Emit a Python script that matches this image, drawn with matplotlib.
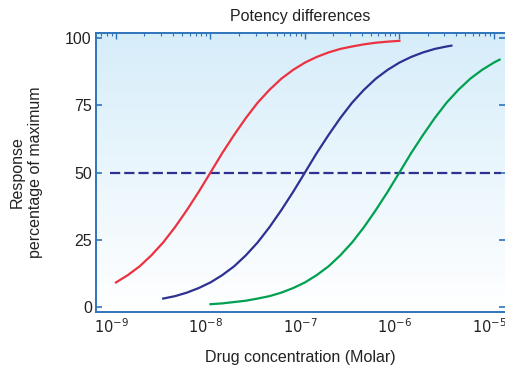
import numpy as np
import matplotlib.pyplot as plt
from matplotlib.transforms import ScaledTranslation

plt.rcParams['font.family'] = ['Liberation Sans', 'DejaVu Sans']
plt.rcParams['axes.unicode_minus'] = False

# values (concentration in Molar, response in %)
red_conc = [1.0e-9, 1.33e-9, 1.78e-9, 2.37e-9, 3.16e-9, 4.22e-9, 5.62e-9, 7.50e-9,
            1.0e-8, 1.33e-8, 1.78e-8, 2.37e-8, 3.16e-8, 4.22e-8, 5.62e-8, 7.50e-8,
            1.0e-7, 1.33e-7, 1.78e-7, 2.37e-7, 3.16e-7, 4.22e-7, 5.62e-7, 7.50e-7,
            1.0e-6]
red_resp = [9.1, 11.8, 15.1, 19.2, 24.0, 29.7, 36.0, 42.8,
            50.0, 57.2, 64.0, 70.3, 76.0, 80.8, 84.9, 88.2,
            90.9, 93.0, 94.7, 96.0, 96.9, 97.7, 98.3, 98.7,
            99.0]

blue_conc = [3.16e-9, 4.22e-9, 5.62e-9, 7.50e-9,
             1.0e-8, 1.33e-8, 1.78e-8, 2.37e-8, 3.16e-8, 4.22e-8, 5.62e-8, 7.50e-8,
             1.0e-7, 1.33e-7, 1.78e-7, 2.37e-7, 3.16e-7, 4.22e-7, 5.62e-7, 7.50e-7,
             1.0e-6, 1.33e-6, 1.78e-6, 2.37e-6, 3.16e-6, 3.55e-6]
blue_resp = [3.1, 4.0, 5.3, 7.0,
             9.1, 11.8, 15.1, 19.2, 24.0, 29.7, 36.0, 42.8,
             50.0, 57.2, 64.0, 70.3, 76.0, 80.8, 84.9, 88.2,
             90.9, 93.0, 94.7, 96.0, 96.9, 97.2]

green_conc = [1.0e-8, 1.33e-8, 1.78e-8, 2.37e-8, 3.16e-8, 4.22e-8, 5.62e-8, 7.50e-8,
              1.0e-7, 1.33e-7, 1.78e-7, 2.37e-7, 3.16e-7, 4.22e-7, 5.62e-7, 7.50e-7,
              1.0e-6, 1.33e-6, 1.78e-6, 2.37e-6, 3.16e-6, 4.22e-6, 5.62e-6, 7.50e-6,
              1.0e-5, 1.15e-5]
green_resp = [1.0, 1.3, 1.8, 2.3, 3.1, 4.0, 5.3, 7.0,
              9.1, 11.8, 15.1, 19.2, 24.0, 29.7, 36.0, 42.8,
              50.0, 57.2, 64.0, 70.3, 76.0, 80.8, 84.9, 88.2,
              90.9, 92.0]

half_line_x = [8.6e-10, 1.2e-5]
half_line_y = [50, 50]

y_ticks = [0, 25, 50, 75, 100]
x_ticks = [1e-9, 1e-8, 1e-7, 1e-6, 1e-5]
x_tick_labels = ['$10^{-9}$', '$10^{-8}$', '$10^{-7}$', '$10^{-6}$', '$10^{-5}$']

blue_edge = '#2f74bb'
text_col = '#222222'

fig = plt.figure(figsize=(5.06, 3.68), dpi=100)
ax = fig.add_axes([0.1897, 0.1522, 0.808, 0.758])

# light blue gradient behind the curves
grad = np.linspace(0, 1, 256).reshape(-1, 1)
top = np.array([0.84, 0.93, 0.98])
bottom = np.array([1.0, 1.0, 1.0])
img = top * (1 - grad[..., None]) + bottom * grad[..., None]
ax.imshow(img, extent=[0, 1, 0, 1], transform=ax.transAxes, aspect='auto', zorder=0)

ax.plot(half_line_x, half_line_y, color='#2e3192', linewidth=1.6,
        dashes=(4.6, 1.8), zorder=2)
ax.plot(red_conc, red_resp, color='#ec3240', linewidth=1.6, zorder=3)
ax.plot(blue_conc, blue_resp, color='#2e3192', linewidth=1.6, zorder=3)
ax.plot(green_conc, green_resp, color='#00a050', linewidth=1.6, zorder=3)

ax.set_xscale('log')
ax.set_xlim(10 ** -9.212, 10 ** -4.884)
ax.set_ylim(-1.9, 101.9)
ax.set_xticks(x_ticks)
ax.set_xticklabels(x_tick_labels)
ax.set_yticks(y_ticks)

for side in ['left', 'bottom', 'top']:
    ax.spines[side].set_color(blue_edge)
    ax.spines[side].set_linewidth(1.4)
ax.spines['right'].set_visible(False)

ax.tick_params(axis='x', which='both', direction='in', top=True, bottom=False,
               labelbottom=True, labeltop=False, color=blue_edge)
ax.tick_params(axis='x', which='major', length=4, width=1, pad=4,
               labelsize=10.5, labelcolor=text_col)
ax.tick_params(axis='x', which='minor', length=2.5, width=0.8)
ax.tick_params(axis='y', direction='in', left=True, right=True, length=4.5,
               width=1.2, color=blue_edge, pad=3, labelsize=11.5,
               labelcolor=text_col)

# the "10" sits over the tick, the exponent hangs to the right
shift = ScaledTranslation(-3.5 / 72, 0, fig.dpi_scale_trans)
for lbl in ax.get_xticklabels():
    lbl.set_transform(lbl.get_transform() + shift)

ax.set_title('Potency differences', fontsize=11.5, color=text_col, pad=9)
ax.set_xlabel('Drug concentration (Molar)', fontsize=11.5, color=text_col, labelpad=10)
ax.set_ylabel('Response\npercentage of maximum', fontsize=11.5, color=text_col,
              labelpad=16, linespacing=1.25)

fig.savefig('out.png', dpi=100)
